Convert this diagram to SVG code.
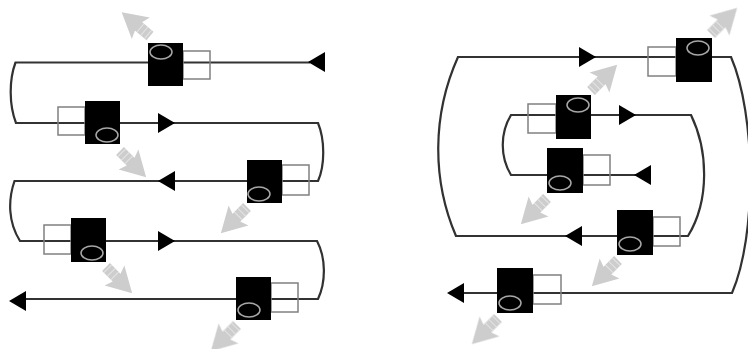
<svg xmlns="http://www.w3.org/2000/svg" width="748" height="349" viewBox="0 0 748 349">
<style>
.w{fill:none;stroke:#303030;stroke-width:2.200}
.b{fill:#000}
.o{fill:none;stroke:#808080;stroke-width:1.5}
.e{fill:none;stroke:#a8a8a8;stroke-width:1.5}
.s{fill:none;stroke:#cdcdcd;stroke-width:11}
.t{fill:none;stroke:#e4e4e4;stroke-width:11;stroke-dasharray:1 4}
.h{fill:#cdcdcd}
</style>
<defs>
<filter id="soft" x="-5%" y="-5%" width="110%" height="110%"><feGaussianBlur stdDeviation="0.45"/></filter>
<polygon id="tri" points="9,0 -8,-10 -8,10" fill="#000"/>
<g id="fat"><line class="s" x1="0" y1="0" x2="17" y2="0"/><line class="t" x1="2" y1="0" x2="14" y2="0"/><polygon class="h" points="37,0 12,-14 15,-5.500 15,5.500 12,14"/></g>
</defs>
<rect width="748" height="349" fill="#fff"/>
<g filter="url(#soft)">
<g id="connectors">
<path class="w" d="M310 62.500H15.500C9 80 9 105 16 123H318C325 140 325 165 318 181H14.500C8 200 8 222 20 241H317C326 258 326 282 318 299H22"/>
<path class="w" d="M640 175H511C500 157 500 133 511 115H691C708 150 710 200 688 236H456C432 180 432 115 458 57H731C756 115 757 235 732 293H462"/>
<use href="#tri" transform="translate(317,62) rotate(180)"/>
<use href="#tri" transform="translate(166,123)"/>
<use href="#tri" transform="translate(167,181) rotate(180)"/>
<use href="#tri" transform="translate(166,241)"/>
<use href="#tri" transform="translate(18,301) rotate(180)"/>
<use href="#tri" transform="translate(587,57)"/>
<use href="#tri" transform="translate(627,115)"/>
<use href="#tri" transform="translate(643,175) rotate(180)"/>
<use href="#tri" transform="translate(574,236) rotate(180)"/>
<use href="#tri" transform="translate(456,293) rotate(180)"/>
<use href="#fat" transform="translate(150,36) rotate(220)"/>
<use href="#fat" transform="translate(120,151) rotate(45)"/>
<use href="#fat" transform="translate(247,207) rotate(135)"/>
<use href="#fat" transform="translate(106,267) rotate(45)"/>
<use href="#fat" transform="translate(237,325) rotate(135)"/>
<use href="#fat" transform="translate(711,34) rotate(-45)"/>
<use href="#fat" transform="translate(591,91) rotate(-45)"/>
<use href="#fat" transform="translate(547,198) rotate(135)"/>
<use href="#fat" transform="translate(618,260) rotate(135)"/>
<use href="#fat" transform="translate(498,318) rotate(135)"/>
</g>
<g id="node-l1"><rect class="o" x="183" y="51" width="27" height="28"/><rect class="b" x="148" y="43" width="35" height="43"/><ellipse class="e" cx="161" cy="52" rx="11" ry="7"/></g>
<g id="node-l2"><rect class="o" x="58" y="107" width="27" height="28"/><rect class="b" x="85" y="101" width="35" height="43"/><ellipse class="e" cx="107" cy="135" rx="11" ry="7"/></g>
<g id="node-l3"><rect class="o" x="282" y="165" width="27" height="30"/><rect class="b" x="247" y="160" width="35" height="43"/><ellipse class="e" cx="259" cy="194" rx="11" ry="7"/></g>
<g id="node-l4"><rect class="o" x="44" y="225" width="27" height="29"/><rect class="b" x="71" y="218" width="35" height="44"/><ellipse class="e" cx="92" cy="253" rx="11" ry="7"/></g>
<g id="node-l5"><rect class="o" x="271" y="283" width="27" height="29"/><rect class="b" x="236" y="277" width="35" height="43"/><ellipse class="e" cx="249" cy="310" rx="11" ry="7"/></g>
<g id="node-r1"><rect class="o" x="648" y="47" width="28" height="29"/><rect class="b" x="676" y="38" width="36" height="44"/><ellipse class="e" cx="698" cy="48" rx="11" ry="7"/></g>
<g id="node-r2"><rect class="o" x="528" y="104" width="28" height="29"/><rect class="b" x="556" y="95" width="35" height="44"/><ellipse class="e" cx="578" cy="105" rx="11" ry="7"/></g>
<g id="node-r3"><rect class="o" x="583" y="155" width="27" height="30"/><rect class="b" x="547" y="148" width="36" height="45"/><ellipse class="e" cx="560" cy="183" rx="11" ry="7"/></g>
<g id="node-r4"><rect class="o" x="653" y="217" width="27" height="29"/><rect class="b" x="617" y="210" width="36" height="45"/><ellipse class="e" cx="630" cy="244" rx="11" ry="7"/></g>
<g id="node-r5"><rect class="o" x="533" y="275" width="28" height="29"/><rect class="b" x="497" y="268" width="36" height="45"/><ellipse class="e" cx="510" cy="303" rx="11" ry="7"/></g>
</g>
</svg>
